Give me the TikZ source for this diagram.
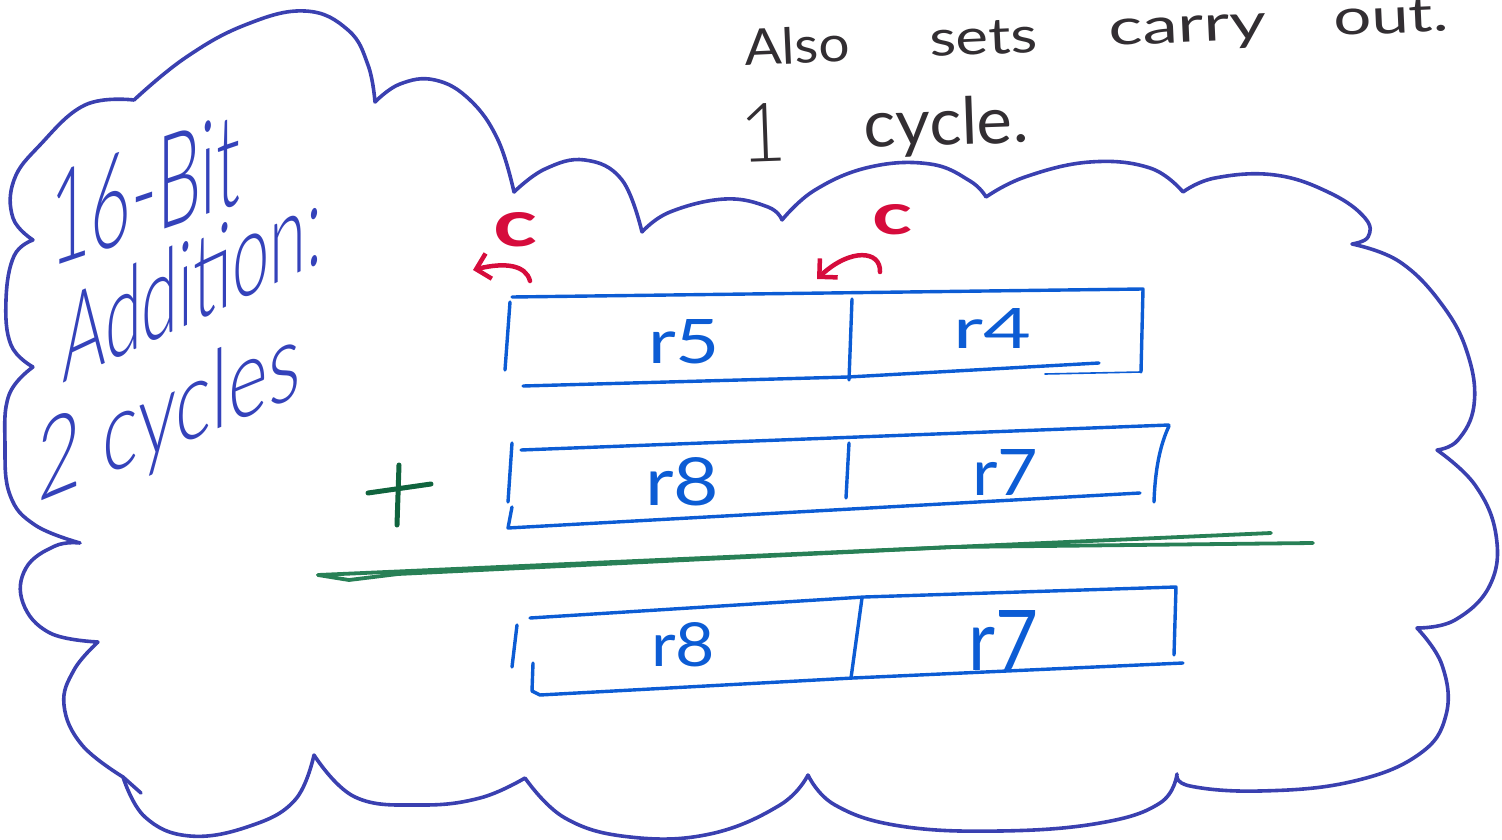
\documentclass[tikz,border=0pt]{standalone}
\usepackage{fontspec}
\usetikzlibrary{arrows.meta}
\IfFontExistsTF{Lato Light}{\newfontfamily\hand{Lato Light}}{\IfFontExistsTF{Fira Sans Light}{\newfontfamily\hand{Fira Sans Light}}{\newfontfamily\hand{Fira Sans}}}
\IfFontExistsTF{Lato}{\newfontfamily\handb{Lato}}{\newfontfamily\handb{Fira Sans}}
\definecolor{cloudc}{RGB}{58,64,176}
\definecolor{textb}{RGB}{52,66,186}
\definecolor{regc}{RGB}{12,92,212}
\definecolor{carryc}{RGB}{214,12,60}
\definecolor{plusc}{RGB}{16,100,62}
\definecolor{linec}{RGB}{40,128,86}
\definecolor{inkc}{RGB}{50,46,50}
\tikzset{
 cloudline/.style={draw=cloudc, line width=3.6pt},
 lobe/.style={smooth, tension=0.7},
 regline/.style={draw=regc, line width=3.4pt},
 reglabel/.style={text=regc, inner sep=0pt, font=\handb\fontsize{62}{62}\selectfont},
 bigtext/.style={text=textb, inner sep=0pt, anchor=base west, font=\hand\fontsize{120}{120}\selectfont, transform shape},
 toptext/.style={text=inkc, inner sep=0pt, anchor=base west, font=\handb\fontsize{50}{50}\selectfont},
 carrytext/.style={text=carryc, inner sep=0pt, font=\handb\bfseries\fontsize{60}{60}\selectfont},
 carryarrow/.style={draw=carryc, line width=4.5pt, -{Straight Barb[length=13pt, width=26pt]}},
 sumline/.style={draw=linec, line width=3.8pt},
 plusline/.style={draw=plusc, line width=5pt},
}
\begin{document}
\begin{tikzpicture}[x=1pt,y=-1pt,line cap=round,line join=round]
\useasboundingbox (0,0) rectangle (1502,840);
% cloud
\draw[cloudline]
 plot[lobe] coordinates {(134,100) (185,58) (245,25) (305,11) (348,30) (368,65) (375,102)}
 plot[lobe] coordinates {(375,102) (400,84) (435,80) (470,100) (498,140) (514,192)}
 plot[lobe] coordinates {(514,192) (545,169) (585,160) (622,180) (642,232)}
 plot[lobe] coordinates {(642,232) (670,212) (725,199) (768,207) (782,220)}
 plot[lobe] coordinates {(782,220) (815,190) (870,167) (930,164) (970,181) (986,197)}
 plot[lobe] coordinates {(986,197) (1025,177) (1090,162) (1150,168) (1183,192)}
 plot[lobe] coordinates {(1183,192) (1215,178) (1275,175) (1330,193) (1365,218) (1368,237) (1352,244)}
 plot[lobe] coordinates {(1352,244) (1400,262) (1443,306) (1468,355) (1474,405) (1458,440) (1437,450)}
 plot[lobe] coordinates {(1437,450) (1475,485) (1496,535) (1490,585) (1455,620) (1417,628)}
 plot[lobe] coordinates {(1417,628) (1442,665) (1446,715) (1418,755) (1350,782) (1260,791) (1190,786) (1177,774)}
 plot[lobe] coordinates {(1177,774) (1160,803) (1100,823) (1000,831) (900,826) (835,805) (808,775)}
 plot[lobe] coordinates {(808,775) (780,805) (710,834) (630,837) (565,818) (525,778)}
 plot[lobe] coordinates {(525,778) (480,798) (420,805) (355,797) (314,755)}
 plot[lobe] coordinates {(314,755) (295,800) (250,826) (190,836) (145,817) (123,777)}
 plot[lobe] coordinates {(123,777) (82,745) (64,705) (74,670) (98,642)}
 plot[lobe] coordinates {(98,642) (50,633) (23,603) (26,568) (55,546) (80,543)}
 plot[lobe] coordinates {(80,543) (35,525) (10,495) (5,445) (9,395) (33,367)}
 plot[lobe] coordinates {(33,367) (11,345) (6,300) (14,256) (33,240)}
 plot[lobe] coordinates {(33,240) (13,218) (14,180) (40,145) (85,105) (134,100)};
\coordinate (tickA) at (123,777);
\coordinate (tickB) at (141,793);
\draw[cloudline] (tickA) -- (tickB);

% left title
\node[bigtext, yslant=0.34] (t16) at (50,268) {\resizebox{190pt}{93pt}{16-Bit}};
\node[bigtext, yslant=0.47] (tadd) at (62,384) {\resizebox{260pt}{86pt}{Addition:}};
\node[bigtext, yslant=0.41] (tcyc) at (37,503) {\resizebox{263pt}{80pt}{2 cycles}};

% top note
\node[toptext, rotate=2.6] (wAlso) at (745,66) {\resizebox{105pt}{\height}{Also}};
\node[toptext, rotate=2.6] (wsets) at (930,57) {\resizebox{108pt}{\height}{sets}};
\node[toptext, rotate=2.6] (wcarry) at (1109,46) {\resizebox{158pt}{\height}{carry}};
\node[toptext, rotate=2.6] (wout) at (1334,36) {\resizebox{115pt}{\height}{out.}};
\node[toptext, rotate=2, font=\hand] (wone) at (740,163) {\resizebox{!}{58pt}{1}};
\node[toptext, rotate=2] (wcycle) at (864,148) {\resizebox{165pt}{48pt}{cycle.}};

% register row 1: r5 | r4
\draw[regline] (512,297) -- (1143,289) -- (1141,372);
\draw[regline] (510,302) -- (505,370);
\draw[regline] (523,386) -- (848,377) -- (1099,363);
\draw[regline] (852,299) -- (849,380);
\draw[draw=regc, line width=1.6pt] (1141,372) -- (1045,374);
\node[reglabel] (r5) at (684,342) {\resizebox{72pt}{44pt}{r5}};
\node[reglabel] (r4) at (992,328) {\resizebox{78pt}{40pt}{r4}};

% register row 2: r8 | r7
\draw[regline] (512,443) -- (508,502);
\draw[regline] (512,507) -- (508,528) -- (1140,493);
\draw[regline] (521,450) -- (1169,425);
\draw[regline] (1169,426) .. controls (1160,445) and (1155,470) .. (1154,502);
\draw[regline] (849,443) -- (846,498);
\node[reglabel] (r8a) at (682,482) {\resizebox{74pt}{48pt}{r8}};
\node[reglabel] (r7a) at (1005,472) {\resizebox{66pt}{46pt}{r7}};

% plus
\coordinate (pv1) at (399,465);
\coordinate (pv2) at (397,525);
\coordinate (ph1) at (368,493);
\coordinate (ph2) at (431,484);
\draw[plusline] (pv1) -- (pv2);
\draw[plusline] (ph1) -- (ph2);

% sum line
\coordinate (s1a) at (318,575);
\coordinate (s1b) at (1271,533);
\coordinate (s2a) at (349,580);
\coordinate (s2m) at (398,574);
\coordinate (s2n) at (953,547);
\coordinate (s2b) at (1313,543);
\draw[sumline] (s1a) -- (s1b);
\draw[sumline] (s1a) -- (s2a) -- (s2m) -- (s2n) -- (s2b);

% register row 3: r8 | r7
\draw[regline] (517,625) -- (512,667);
\draw[regline] (533,663) -- (532,691) -- (540,695) -- (853,678) -- (1183,663);
\draw[regline] (530,618) -- (864,597) -- (1176,587) -- (1174,655);
\draw[regline] (862,598) -- (851,678);
\node[reglabel] (r8b) at (683,645) {\resizebox{64pt}{44pt}{r8}};
\node[reglabel] (r7b) at (1003,640) {\resizebox{70pt}{60pt}{r7}};

% carries
\node[carrytext] (cL) at (515,230) {\resizebox{44pt}{34pt}{c}};
\node[carrytext] (cR) at (892,220) {\resizebox{40pt}{30pt}{c}};
\coordinate (aLs) at (530,281);
\coordinate (aLe) at (473,270);
\coordinate (aRs) at (880,272);
\coordinate (aRe) at (817,279);
\draw[carryarrow] (aLs) .. controls (526,265) and (505,262) .. (aLe);
\draw[carryarrow] (aRs) .. controls (881,250) and (850,248) .. (aRe);
\end{tikzpicture}
\end{document}
